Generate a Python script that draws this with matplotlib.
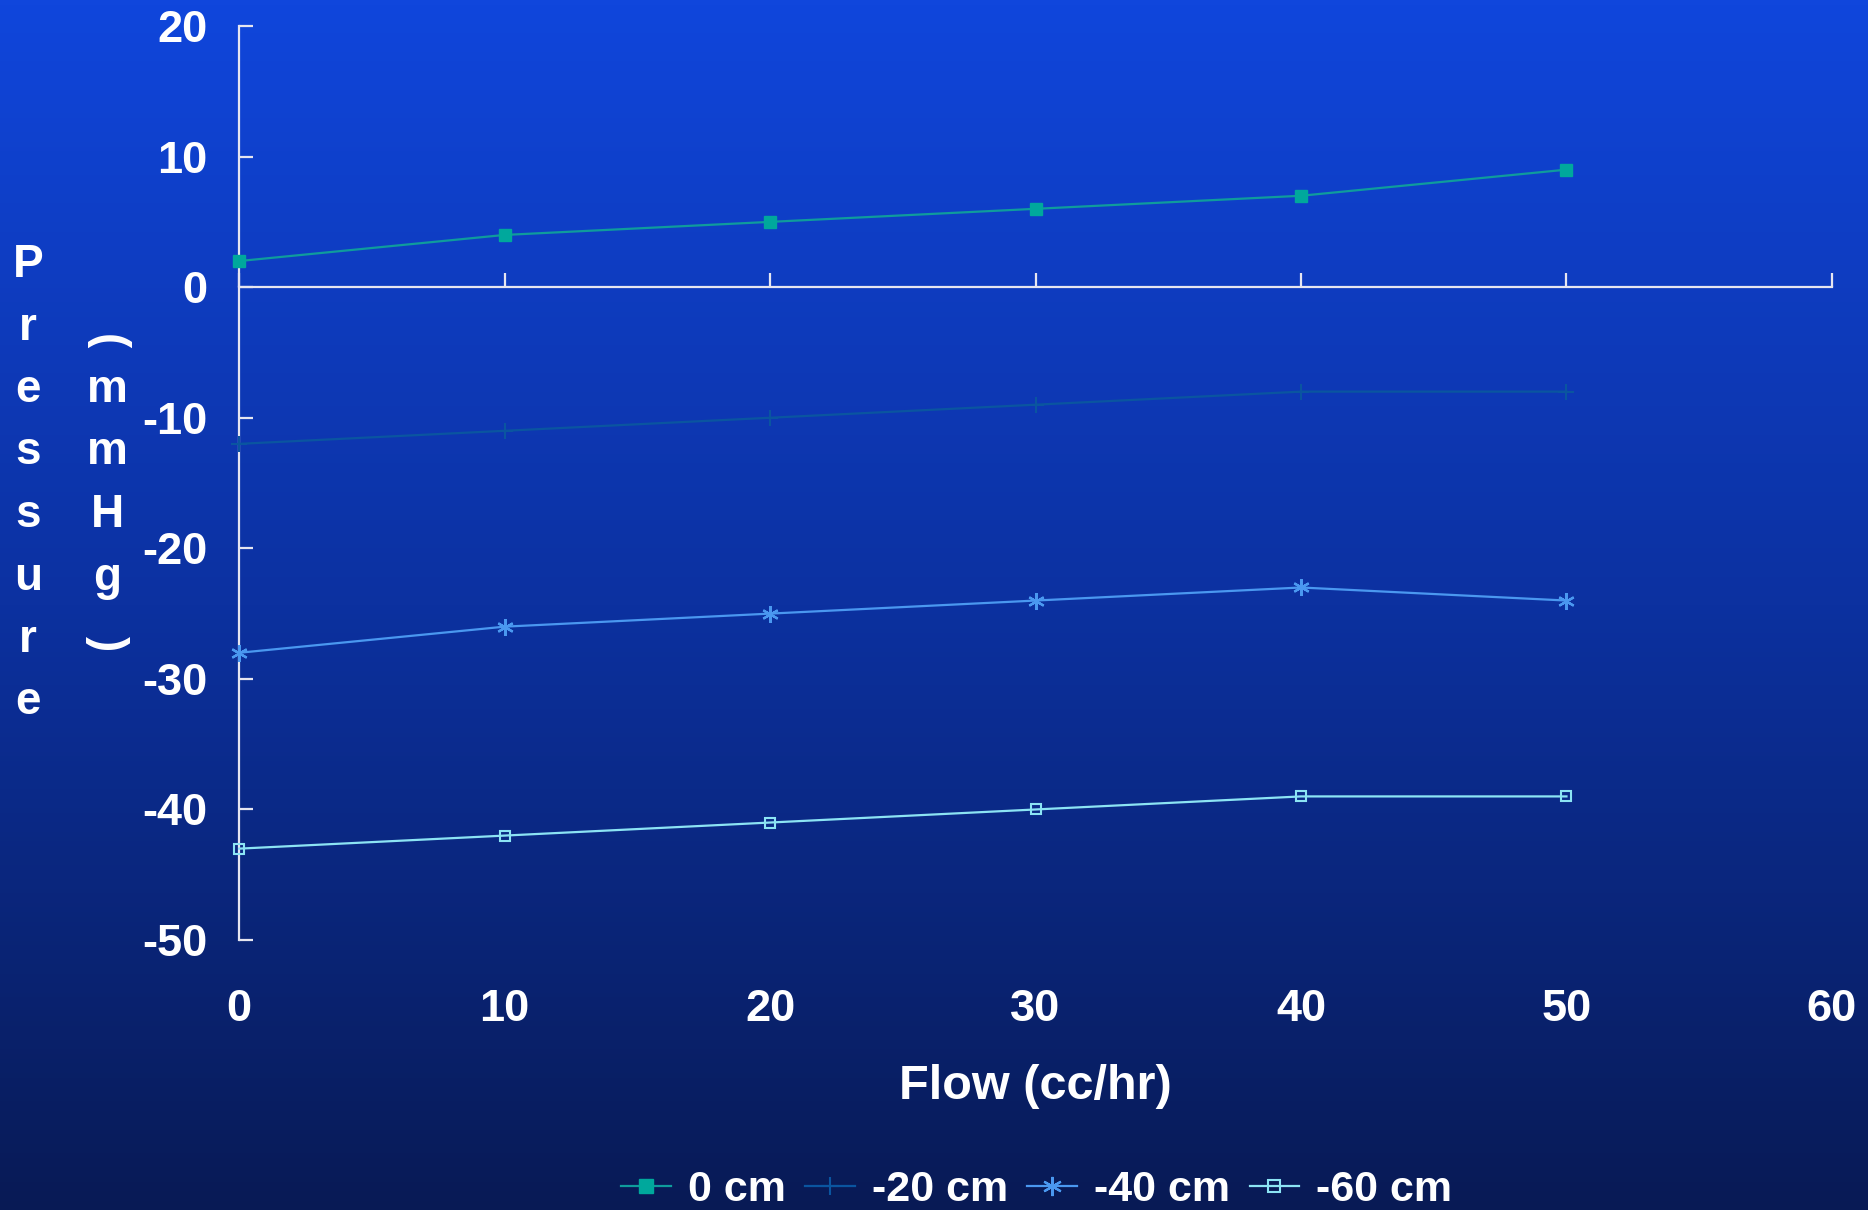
import numpy as np
import matplotlib
matplotlib.use('Agg')
import matplotlib.pyplot as plt
from matplotlib.colors import LinearSegmentedColormap

flow = [0, 10, 20, 30, 40, 50]
p_0cm = [2, 4, 5, 6, 7, 9]
p_20cm = [-12, -11, -10, -9, -8, -8]
p_40cm = [-28, -26, -25, -24, -23, -24]
p_60cm = [-43, -42, -41, -40, -39, -39]
labels = ['0 cm', '-20 cm', '-40 cm', '-60 cm']
xticks = [0, 10, 20, 30, 40, 50, 60]
yticks = [20, 10, 0, -10, -20, -30, -40, -50]

plt.rcParams['font.family'] = ['Liberation Sans', 'DejaVu Sans']
plt.rcParams['font.weight'] = 'bold'
plt.rcParams['axes.unicode_minus'] = False

fig = plt.figure(figsize=(18.68, 12.10), dpi=100)

# background gradient
bg = fig.add_axes([0, 0, 1, 1], zorder=-10)
cmap = LinearSegmentedColormap.from_list('bg', [(0, '#1046dc'), (0.5, '#0c31a0'), (1, '#081a55')])
bg.imshow(np.linspace(0, 1, 256).reshape(-1, 1), aspect='auto', cmap=cmap, extent=[0, 1, 0, 1])
bg.axis('off')

ax = fig.add_axes([0.128, 0.2231, 0.8527, 0.7554])
ax.patch.set_alpha(0)

ax.plot(flow, p_0cm, color='#0f9c9c', lw=1.6, marker='s', ms=9, mfc='#00a89c', mec='#00a89c', label=labels[0], clip_on=False, zorder=5)
ax.plot(flow, p_20cm, color='#0a55a0', lw=1.6, marker='+', ms=11, mew=1.5, label=labels[1], clip_on=False, zorder=5)
ax.plot(flow, p_40cm, color='#4a98f0', lw=1.6, marker=(6, 2, 0), ms=12, mew=1.6, mec='#4a98f0', label=labels[2], clip_on=False, zorder=5)
ax.plot(flow, p_60cm, color='#8ce4f4', lw=1.6, marker='s', ms=7.5, mew=1.5, mfc='none', mec='#8ce4f4', label=labels[3], clip_on=False, zorder=5)

ax.set_xlim(0, 60)
ax.set_ylim(-50, 20)
for s in ['top', 'right']:
    ax.spines[s].set_visible(False)
ax.spines['bottom'].set_position(('data', 0))
for s in ['left', 'bottom']:
    ax.spines[s].set_color('#e6e6f0')
    ax.spines[s].set_linewidth(1.6)

ax.set_yticks(yticks)
ax.set_xticks(xticks)
ax.tick_params(axis='y', direction='in', length=10, width=1.6, color='#e6e6f0',
               labelcolor='white', labelsize=32.5, pad=23)
ax.tick_params(axis='x', direction='in', length=10, width=1.6, color='#e6e6f0',
               labelbottom=False)

sec = ax.secondary_xaxis('bottom')
sec.set_xticks(xticks)
sec.spines['bottom'].set_visible(False)
sec.tick_params(length=0, labelcolor='white', labelsize=32.5, pad=35)

ax.set_xlabel('Flow (cc/hr)', color='white', fontsize=35, fontweight='bold', va='center')
ax.xaxis.set_label_coords(0.5, -(1086 - 940) / 914)

# stacked vertical y label
col1 = list('Pressure')
col2 = ['(', 'm', 'm', 'H', 'g', ')']
y0 = 1 - 265 / 1210
step = 62.5 / 1210
for i, ch in enumerate(col1):
    fig.text(28 / 1868, y0 - i * step, ch, color='white', fontsize=33, ha='center', va='center')
for i, ch in enumerate(col2):
    rot = 0
    dy = 0
    if ch == '(':
        rot, dy = -90, -14 / 1210
    elif ch == ')':
        rot, dy = -90, -4 / 1210
    fig.text(107 / 1868, y0 - (i + 1) * step + dy, ch, color='white', fontsize=33, ha='center', va='center', rotation=rot)

leg = fig.legend(loc='center', bbox_to_anchor=(0.555, 1 - 1190 / 1210), ncol=4, frameon=False,
                 fontsize=31, handlelength=1.15, columnspacing=0.45, handletextpad=0.4, markerscale=1.15)
for t in leg.get_texts():
    t.set_color('white')

fig.savefig('out.png', dpi=100)
